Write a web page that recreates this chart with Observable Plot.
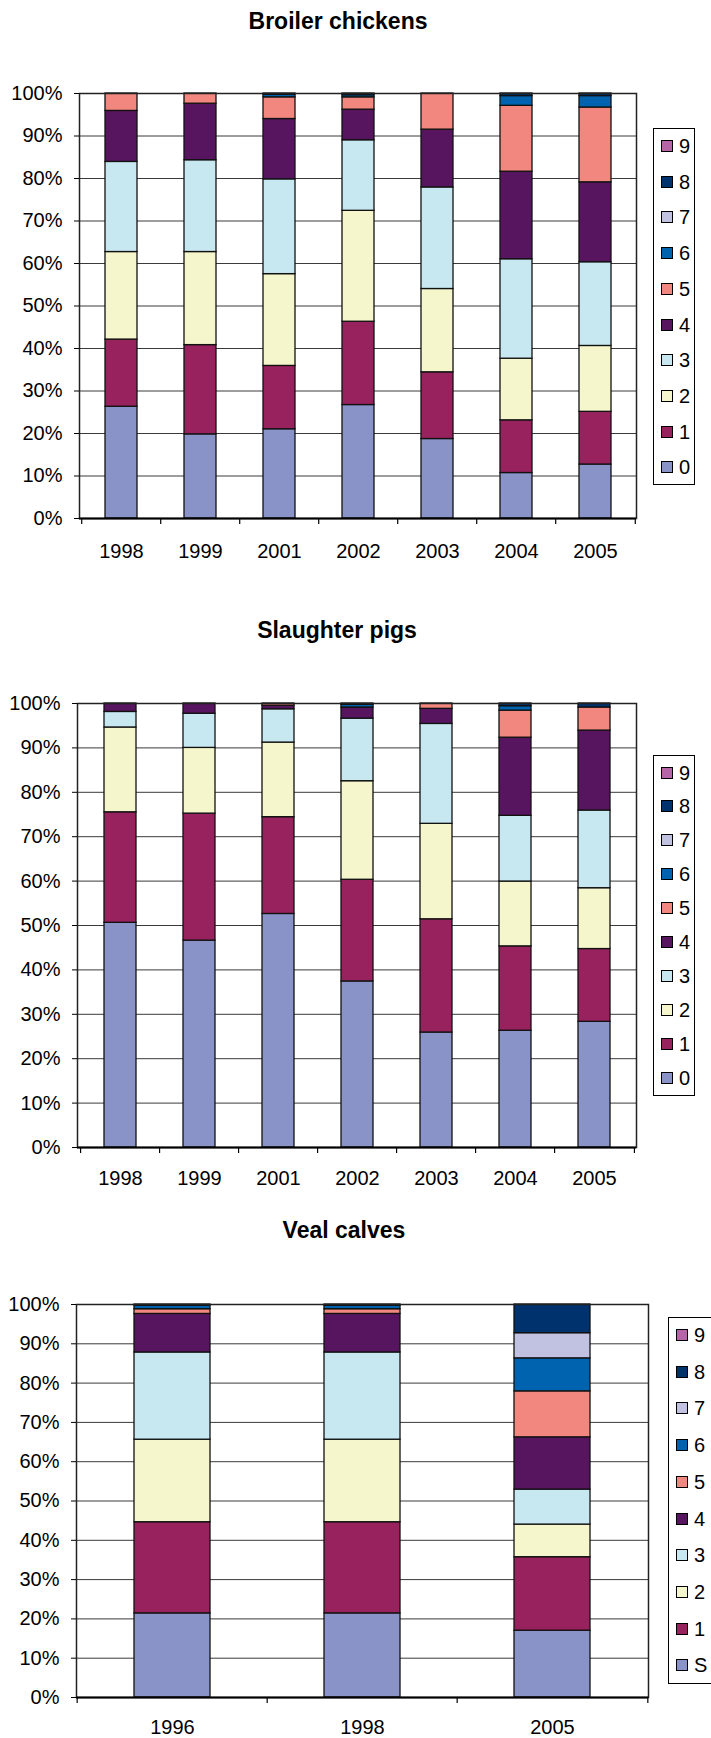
<!DOCTYPE html>
<html><head><meta charset="utf-8">
<script src="https://cdn.jsdelivr.net/npm/d3@7"></script>
<script src="https://cdn.jsdelivr.net/npm/@observablehq/plot@0.6"></script>
<style>
body{margin:0;background:#fff;font-family:"Liberation Sans",Arial,sans-serif;}
#page{position:relative;width:711px;height:1738px;overflow:hidden;background:#fff;}
.title{position:absolute;font-weight:bold;font-size:23px;transform:translate(-50%,-50%);white-space:nowrap;color:#000;}
.legend{position:absolute;border:1px solid #000;background:#fff;box-sizing:border-box;}
.item{position:absolute;display:flex;align-items:center;font-size:20px;line-height:20px;color:#000;transform:translateY(-50%);}
.sw{width:10px;height:10px;border:1px solid #000;margin-right:6px;}
.chart{position:absolute;left:0;}
</style></head><body><div id="page"></div>
<script>
// Series codes and colours (bottom to top in the stacks)
const codes = ["0","1","2","3","4","5","6","7","8","9"];
const colors = ["#8A93C7","#97225D","#F6F6CC","#C7E8F0","#56155E","#F2877F","#0063B0","#C1C2E1","#00336E","#B565A8"];
const legendLabels = ["0","1","2","3","4","5","6","7","8","9"];
const vealLegendLabels = ["S","1","2","3","4","5","6","7","8","9"];

// Broiler chickens: share (%) of each code per year, codes 0..9
const broilerYears = ["1998","1999","2001","2002","2003","2004","2005"];
const broilerShares = [
  [26.3, 15.8, 20.6, 21.2, 12.0, 4.1, 0, 0, 0, 0],
  [19.8, 21.0, 21.9, 21.6, 13.3, 2.4, 0, 0, 0, 0],
  [21.0, 14.9, 21.6, 22.3, 14.2, 5.1, 0.6, 0, 0.3, 0],
  [26.7, 19.6, 26.1, 16.6, 7.2, 2.9, 0.5, 0, 0.4, 0],
  [18.7, 15.7, 19.6, 23.9, 13.6, 8.5, 0, 0, 0, 0],
  [10.7, 12.4, 14.5, 23.4, 20.6, 15.5, 2.3, 0, 0.6, 0],
  [12.7, 12.4, 15.5, 19.7, 18.8, 17.6, 2.7, 0, 0.6, 0]
];

// Slaughter pigs
const pigYears = ["1998","1999","2001","2002","2003","2004","2005"];
const pigShares = [
  [50.6, 24.9, 19.1, 3.5, 1.9, 0, 0, 0, 0, 0],
  [46.6, 28.6, 14.8, 7.7, 2.3, 0, 0, 0, 0, 0],
  [52.6, 21.8, 16.8, 7.5, 0.8, 0.5, 0, 0, 0, 0],
  [37.4, 22.9, 22.2, 14.1, 2.5, 0, 0.6, 0, 0.3, 0],
  [25.9, 25.5, 21.5, 22.5, 3.4, 1.2, 0, 0, 0, 0],
  [26.3, 19.0, 14.6, 14.8, 17.6, 6.1, 1.0, 0, 0.6, 0],
  [28.3, 16.4, 13.7, 17.5, 18.0, 5.2, 0, 0, 0.9, 0]
];

// Veal calves
const vealYears = ["1996","1998","2005"];
const vealShares = [
  [21.4, 23.2, 21.0, 22.2, 9.8, 1.2, 0.9, 0, 0.3, 0],
  [21.4, 23.2, 21.0, 22.2, 9.8, 1.2, 0.9, 0, 0.3, 0],
  [17.0, 18.7, 8.3, 8.9, 13.3, 11.7, 8.4, 6.4, 7.3, 0]
];

const yTicks = d3.range(0, 101, 10);
const page = document.getElementById("page");

function tidy(years, shares) {
  const rows = [];
  years.forEach((yr, i) => codes.forEach((c, j) => {
    if (shares[i][j] > 0) rows.push({year: yr, code: c, value: shares[i][j]});
  }));
  return rows;
}

function makeChart(cfg) {
  const {years, shares, labels, title, titleX, titleY, svgTop, left, right, innerH, bottom, labelPad,
         legLeft, legTop, legWidth, legHeight, legFirst, legStep, swLeft} = cfg;
  const W = 711;
  const step = (W - left - right) / years.length;
  const tickLen = 6 / innerH * 100;
  const data = tidy(years, shares);
  const chart = Plot.plot({
    width: W,
    height: 10 + innerH + bottom,
    marginTop: 10, marginLeft: left, marginRight: right, marginBottom: bottom,
    style: {fontFamily: "'Liberation Sans', Arial, sans-serif", fontSize: "20px", color: "#000", background: "transparent", overflow: "visible"},
    x: {domain: years, paddingInner: 0.6, paddingOuter: 0.3, label: null},
    y: {domain: [0, 100], label: null},
    color: {domain: codes, range: colors},
    marks: [
      Plot.gridY(yTicks, {stroke: "#3a3a3a", strokeOpacity: 1, strokeWidth: 1}),
      Plot.barY(data, {x: "year", y: "value", fill: "code", stroke: "#111", strokeWidth: 1.3}),
      Plot.frame({stroke: "#222", strokeWidth: 1.5}),
      Plot.ruleY([0], {stroke: "#000", strokeWidth: 2}),
      Plot.axisY(yTicks, {tickFormat: d => d + "%", tickSize: 5, tickPadding: 12, fontSize: 20, label: null, stroke: "#000"}),
      Plot.axisX({tickSize: 0, tickPadding: labelPad, fontSize: 20, label: null}),
      Plot.ruleX(years, {x: d => d, dx: -step / 2, y1: 0, y2: -tickLen, stroke: "#000", strokeWidth: 1.2}),
      Plot.ruleX(years.slice(-1), {x: d => d, dx: step / 2, y1: 0, y2: -tickLen, stroke: "#000", strokeWidth: 1.2})
    ]
  });
  chart.classList.add("chart");
  chart.style.top = svgTop + "px";
  page.appendChild(chart);

  const t = document.createElement("div");
  t.className = "title";
  t.textContent = title;
  t.style.left = titleX + "px";
  t.style.top = titleY + "px";
  page.appendChild(t);

  const leg = document.createElement("div");
  leg.className = "legend";
  leg.style.left = legLeft + "px";
  leg.style.top = legTop + "px";
  leg.style.width = legWidth + "px";
  leg.style.height = legHeight + "px";
  page.appendChild(leg);
  for (let k = codes.length - 1; k >= 0; k--) {
    const it = document.createElement("div");
    it.className = "item";
    it.style.left = (swLeft - legLeft - 1) + "px";
    it.style.top = (legFirst + (codes.length - 1 - k) * legStep - legTop - 1) + "px";
    const sw = document.createElement("span");
    sw.className = "sw";
    sw.style.background = colors[k];
    const tx = document.createElement("span");
    tx.textContent = labels[k];
    it.appendChild(sw); it.appendChild(tx);
    leg.appendChild(it);
  }
}

makeChart({years: broilerYears, shares: broilerShares, labels: legendLabels, title: "Broiler chickens",
  titleX: 338, titleY: 21, svgTop: 83, left: 79, right: 75, innerH: 425, bottom: 55, labelPad: 25,
  legLeft: 653, legTop: 128, legWidth: 42, legHeight: 357, legFirst: 146, legStep: 35.7, swLeft: 661});

makeChart({years: pigYears, shares: pigShares, labels: legendLabels, title: "Slaughter pigs",
  titleX: 337, titleY: 630, svgTop: 693, left: 77, right: 75, innerH: 444, bottom: 55, labelPad: 23,
  legLeft: 653, legTop: 755, legWidth: 42, legHeight: 341, legFirst: 772.5, legStep: 33.9, swLeft: 661});

makeChart({years: vealYears, shares: vealShares, labels: vealLegendLabels, title: "Veal calves",
  titleX: 344, titleY: 1230, svgTop: 1294, left: 76, right: 63, innerH: 393, bottom: 44, labelPad: 22,
  legLeft: 668, legTop: 1317, legWidth: 60, legHeight: 367, legFirst: 1335, legStep: 36.7, swLeft: 676});
</script>
</body></html>
